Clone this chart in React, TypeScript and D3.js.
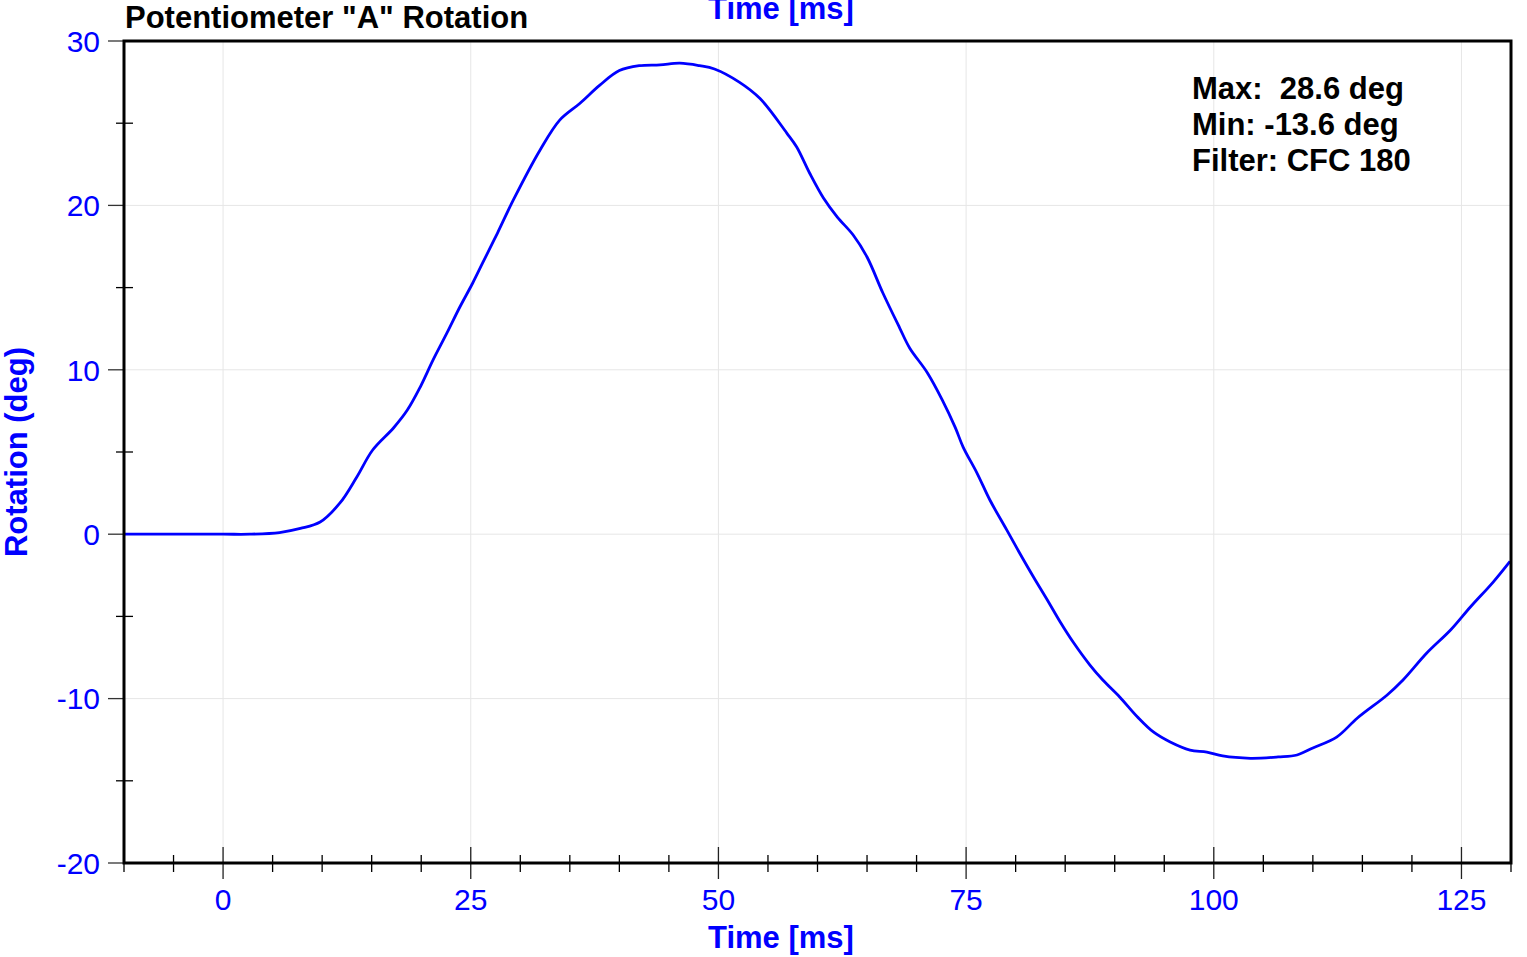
import React from "react";
import * as d3 from "d3";

const timeMs = [-10, 0, 2.7, 5.7, 7.8, 9.8, 11.8, 13.5, 15.1, 17.2, 18.6, 19.9, 21.2, 22.6, 23.9, 25.2, 26.2, 27.7, 29.3, 32, 34, 36, 38, 40, 42, 44.1, 46.1, 48.1, 49.6, 52.1, 54.2, 56.9, 57.9, 59.2, 60.6, 62.0, 63.6, 65.0, 66.6, 68.3, 69.3, 71.1, 72.6, 73.9, 74.7, 76.1, 77.4, 79.1, 80.4, 81.8, 83.2, 84.5, 85.8, 87.5, 88.8, 90.5, 92.3, 93.9, 95.6, 97.6, 99.3, 100.9, 103.7, 106.5, 108.4, 110.0, 112.4, 114.5, 117.5, 119.1, 121.5, 123.9, 125.9, 128.2, 129.9];
const rotationDeg = [0, 0, 0, 0.1, 0.35, 0.74, 1.9, 3.48, 5.12, 6.46, 7.55, 8.95, 10.6, 12.24, 13.82, 15.28, 16.5, 18.32, 20.33, 23.37, 25.2, 26.2, 27.3, 28.2, 28.5, 28.55, 28.65, 28.5, 28.3, 27.5, 26.5, 24.4, 23.55, 21.97, 20.45, 19.29, 18.2, 16.86, 14.67, 12.54, 11.33, 9.81, 8.16, 6.5, 5.3, 3.72, 2.08, 0.26, -1.14, -2.6, -4.0, -5.34, -6.56, -7.96, -8.87, -9.9, -11.12, -12.03, -12.64, -13.13, -13.25, -13.49, -13.63, -13.55, -13.43, -13.0, -12.34, -11.18, -9.78, -8.87, -7.23, -5.83, -4.43, -2.91, -1.65];

const xMajorTicks = [0, 25, 50, 75, 100, 125];
const yMajorTicks = [-20, -10, 0, 10, 20, 30];
const statsLines = ["Max:  28.6 deg", "Min: -13.6 deg", "Filter: CFC 180"];
const title = 'Potentiometer "A" Rotation';
const xLabel = "Time [ms]";
const yLabel = "Rotation (deg)";

const W = 1527, H = 957;
const L = 124, R = 1511, T = 41, B = 863;
const FONT = "'Liberation Sans', Arial, sans-serif";
const BLUE = "#0000ff";

export default function App() {
  const x = d3.scaleLinear().domain([-10, 130]).range([L, R]);
  const y = d3.scaleLinear().domain([-20, 30]).range([B, T]);
  const xMinor = d3.range(-5, 130, 5).filter((v) => v % 25 !== 0);
  const yMinor = d3.range(-15, 30, 10);
  const data = timeMs.map((t, i) => [t, rotationDeg[i]] as [number, number]);
  const line = d3
    .line<[number, number]>()
    .x((d) => x(d[0]))
    .y((d) => y(d[1]))
    .curve(d3.curveCatmullRom.alpha(0.5));

  return (
    <svg width={W} height={H} style={{ position: "absolute", left: 0, top: 0 }} fontFamily={FONT}>
      <rect width={W} height={H} fill="#fff" />
      {/* grid */}
      {xMajorTicks.map((v) => (
        <line key={"gx" + v} x1={x(v)} x2={x(v)} y1={T} y2={B} stroke="#e6e6e6" strokeWidth={1} />
      ))}
      {yMajorTicks.slice(1, -1).map((v) => (
        <line key={"gy" + v} x1={L} x2={R} y1={y(v)} y2={y(v)} stroke="#e6e6e6" strokeWidth={1} />
      ))}
      {/* data */}
      <path d={line(data) || ""} fill="none" stroke={BLUE} strokeWidth={2.8} />
      {/* y ticks */}
      {yMajorTicks.map((v) => (
        <line key={"ty" + v} x1={L - 16} x2={L} y1={y(v)} y2={y(v)} stroke="#333" strokeWidth={1.3} />
      ))}
      {yMinor.map((v) => (
        <line key={"tym" + v} x1={L - 8} x2={L + 9} y1={y(v)} y2={y(v)} stroke="#000" strokeWidth={1.3} />
      ))}
      {/* x ticks */}
      {xMajorTicks.map((v) => (
        <line key={"tx" + v} x1={x(v)} x2={x(v)} y1={B - 16} y2={B + 16} stroke="#222" strokeWidth={1.3} />
      ))}
      {xMinor.map((v) => (
        <line key={"txm" + v} x1={x(v)} x2={x(v)} y1={B - 8} y2={B + 9} stroke="#000" strokeWidth={1.3} />
      ))}
      <line x1={x(-10)} x2={x(-10)} y1={B} y2={B + 9} stroke="#000" strokeWidth={1.3} />
      <line x1={x(130)} x2={x(130)} y1={B} y2={B + 9} stroke="#000" strokeWidth={1.3} />
      {/* frame */}
      <rect x={L} y={T} width={R - L} height={B - T} fill="none" stroke="#000" strokeWidth={3} />
      {/* tick labels */}
      {yMajorTicks.map((v) => (
        <text key={"ly" + v} x={100} y={y(v)} dy="0.36em" textAnchor="end" fontSize={30} fill={BLUE}>
          {v}
        </text>
      ))}
      {xMajorTicks.map((v) => (
        <text key={"lx" + v} x={x(v)} y={910} textAnchor="middle" fontSize={30} fill={BLUE}>
          {v}
        </text>
      ))}
      {/* axis titles */}
      <text x={781} y={948} textAnchor="middle" fontSize={31} fontWeight="bold" fill={BLUE}>
        {xLabel}
      </text>
      <text x={781} y={19} textAnchor="middle" fontSize={31} fontWeight="bold" fill={BLUE}>
        {xLabel}
      </text>
      <text
        transform={`translate(27,${(T + B) / 2}) rotate(-90)`}
        textAnchor="middle"
        fontSize={31}
        fontWeight="bold"
        fill={BLUE}
      >
        {yLabel}
      </text>
      <text x={125} y={28} fontSize={31} fontWeight="bold" fill="#000">
        {title}
      </text>
      {statsLines.map((s, i) => (
        <text key={"s" + i} x={1192} y={99 + i * 36} fontSize={31} fontWeight="bold" fill="#000" style={{ whiteSpace: "pre" }}>
          {s}
        </text>
      ))}
    </svg>
  );
}
